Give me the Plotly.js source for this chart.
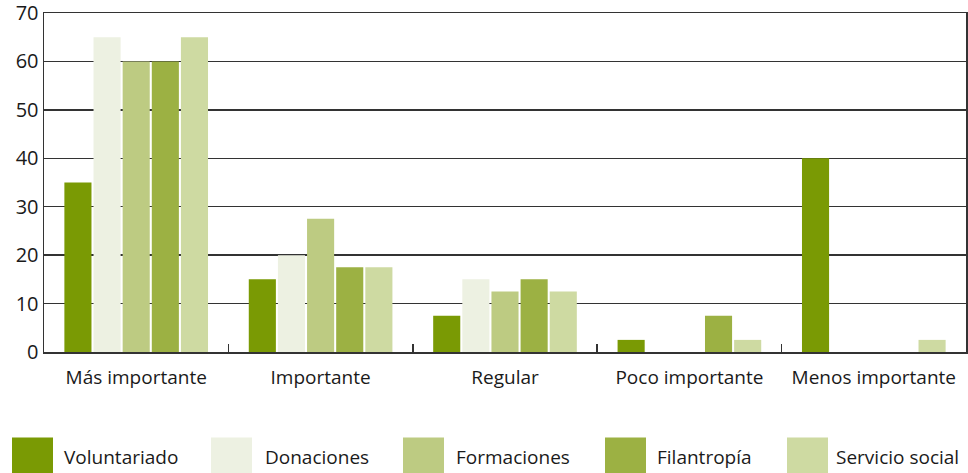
<!DOCTYPE html>
<html>
<head>
<meta charset="utf-8">
<script src="https://cdn.plot.ly/plotly-3.0.1.min.js"></script>
<style>html,body{margin:0;padding:0;background:#fff}#chart{width:968px;height:473px}</style>
</head>
<body>
<div id="chart"></div>
<script>
const categories = ["Más importante", "Importante", "Regular", "Poco importante", "Menos importante"];
const seriesNames = ["Voluntariado", "Donaciones", "Formaciones", "Filantropía", "Servicio social"];
const voluntariado = [35, 15, 7.5, 2.5, 40];
const donaciones = [65, 20, 15, 0, 0];
const formaciones = [60, 27.5, 12.5, 0, 0];
const filantropia = [60, 17.5, 15, 7.5, 0];
const servicioSocial = [65, 17.5, 12.5, 2.5, 2.5];
const yTicks = [0, 10, 20, 30, 40, 50, 60, 70];
const colors = ["#7a9a04", "#edf1e2", "#bdcb82", "#9cb143", "#cedaa2"];

const seriesValues = [voluntariado, donaciones, formaciones, filantropia, servicioSocial];
const font = "'Open Sans', 'Noto Sans', sans-serif";

const traces = seriesValues.map((vals, i) => ({
  type: "bar",
  name: seriesNames[i],
  x: categories,
  y: vals,
  marker: {color: colors[i], line: {width: 0}},
  hoverinfo: "x+y+name"
}));

// custom legend (large swatches), positions in pixels converted to paper coords
const legendSwatchPx = [12, 211, 403, 605, 787];
const legendTextPx = [62, 263, 454, 655, 834];
const px2paper = p => (p - 44) / 922;
const shapes = [];
const annotations = [];
seriesNames.forEach((n, i) => {
  shapes.push({type: "rect", xref: "paper", yref: "paper",
    x0: px2paper(legendSwatchPx[i]), x1: px2paper(legendSwatchPx[i] + 41),
    y0: -0.40, y1: -0.252, fillcolor: colors[i], line: {width: 0}, layer: "above"});
  annotations.push({xref: "paper", yref: "paper", x: px2paper(legendTextPx[i]), y: -0.31,
    xanchor: "left", yanchor: "middle",
    text: n, showarrow: false, font: {family: font, size: 19, color: "#1a1a1a"}});
});

const layout = {
  width: 968, height: 473,
  margin: {l: 44, r: 2, t: 13, b: 121},
  paper_bgcolor: "#fff", plot_bgcolor: "#fff",
  barmode: "group", bargap: 0.21, bargroupgap: 0.07,
  showlegend: false,
  font: {family: font, size: 19, color: "#1a1a1a"},
  xaxis: {
    type: "category",
    showline: true, mirror: true, linecolor: "#333", linewidth: 1.5,
    ticks: "inside", tickson: "boundaries", ticklen: 8, tickcolor: "#333", tickwidth: 1.5,
    ticklabelstandoff: 8,
    tickfont: {family: font, size: 19, color: "#1a1a1a"},
    showgrid: false, zeroline: false
  },
  yaxis: {
    range: [0, 70], tickvals: yTicks, ticktext: yTicks.map(String),
    showline: true, mirror: true, linecolor: "#333", linewidth: 1.5,
    showgrid: true, gridcolor: "#333", gridwidth: 1.5,
    zeroline: false, ticks: "", ticklabeloverflow: "allow",
    tickfont: {family: font, size: 20, color: "#1a1a1a"}
  },
  shapes: shapes,
  annotations: annotations
};

Plotly.newPlot("chart", traces, layout, {displayModeBar: false, staticPlot: true});
</script>
</body>
</html>
